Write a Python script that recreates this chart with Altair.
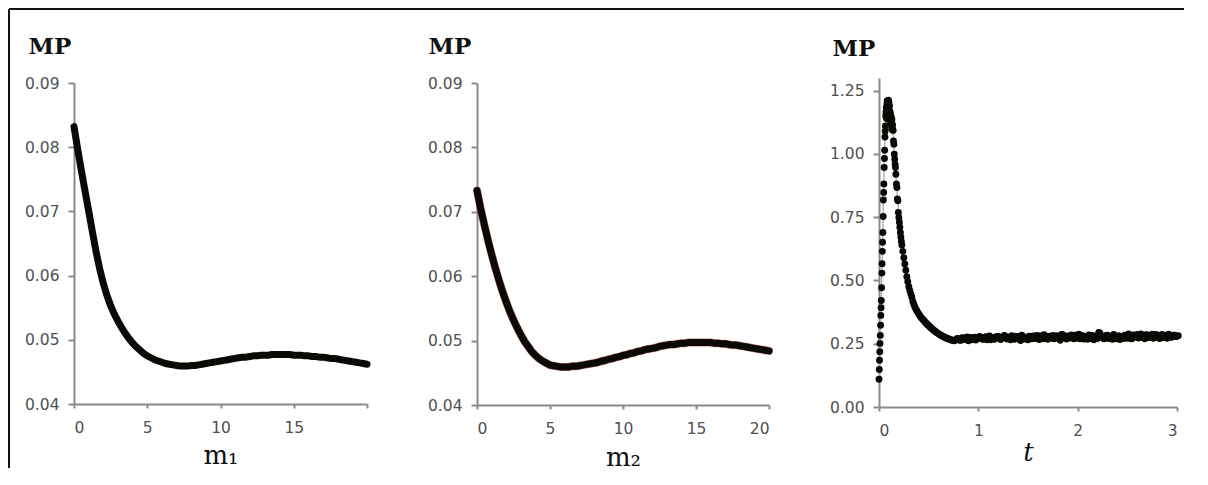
import altair as alt
import pandas as pd

BLACK = "#0b0906"

# Panel 1: MP vs m1 (step 0.25)
mp1 = [0.0832, 0.0797, 0.0764, 0.0732, 0.0701, 0.0669, 0.0638, 0.0611, 0.0588, 0.0569,
       0.0553, 0.0540, 0.0529, 0.0519, 0.0510, 0.0502, 0.0495, 0.0489, 0.0484, 0.0479,
       0.0475, 0.0472, 0.0469, 0.0467, 0.0465, 0.0463, 0.0462, 0.0461, 0.0460, 0.0459,
       0.0459, 0.0459, 0.0460, 0.0460, 0.0461, 0.0462, 0.0463, 0.0464, 0.0465, 0.0466,
       0.0467, 0.0468, 0.0469, 0.0470, 0.0471, 0.0472, 0.0473, 0.0473, 0.0474, 0.0475,
       0.0475, 0.0476, 0.0476, 0.0476, 0.0477, 0.0477, 0.0477, 0.0477, 0.0477, 0.0477,
       0.0476, 0.0476, 0.0476, 0.0475, 0.0475, 0.0474, 0.0474, 0.0473, 0.0473, 0.0472,
       0.0471, 0.0471, 0.0470, 0.0469, 0.0468, 0.0467, 0.0466, 0.0465, 0.0464, 0.0463,
       0.0462]
m1 = [round(i * 0.25, 2) for i in range(len(mp1))]

# Panel 2: MP vs m2 (step 0.25)
mp2 = [0.0733, 0.0705, 0.0680, 0.0656, 0.0634, 0.0613, 0.0594, 0.0576, 0.0560, 0.0545,
       0.0532, 0.0520, 0.0509, 0.0499, 0.0491, 0.0483, 0.0477, 0.0472, 0.0468, 0.0465,
       0.0462, 0.0461, 0.0460, 0.0459, 0.0459, 0.0459, 0.0460, 0.0460, 0.0461, 0.0462,
       0.0463, 0.0464, 0.0465, 0.0466, 0.0468, 0.0469, 0.0471, 0.0472, 0.0474, 0.0475,
       0.0477, 0.0478, 0.0480, 0.0481, 0.0483, 0.0484, 0.0486, 0.0487, 0.0488, 0.0489,
       0.0491, 0.0492, 0.0493, 0.0494, 0.0494, 0.0495, 0.0496, 0.0496, 0.0497, 0.0497,
       0.0497, 0.0497, 0.0497, 0.0497, 0.0497, 0.0496, 0.0496, 0.0495, 0.0495, 0.0494,
       0.0493, 0.0493, 0.0492, 0.0491, 0.0490, 0.0489, 0.0488, 0.0487, 0.0486, 0.0485,
       0.0484]
m2 = [round(i * 0.25, 2) for i in range(len(mp2))]

# Panel 3: MP vs t
t_rise = [0.000, 0.003, 0.005, 0.008, 0.010, 0.013, 0.016, 0.018, 0.021, 0.023, 0.026, 0.029,
          0.031, 0.034, 0.036, 0.039, 0.042, 0.044, 0.047, 0.049, 0.052, 0.055, 0.057, 0.060,
          0.062, 0.065, 0.068, 0.070, 0.073]
mp_rise = [0.110, 0.148, 0.185, 0.218, 0.251, 0.283, 0.323, 0.362, 0.392, 0.421, 0.471, 0.529,
           0.566, 0.615, 0.651, 0.690, 0.753, 0.818, 0.848, 0.881, 0.946, 0.982, 1.015, 1.067,
           1.090, 1.110, 1.150, 1.165, 1.182]
t_peak = [0.076, 0.079, 0.082, 0.085, 0.088, 0.091, 0.094, 0.097, 0.100, 0.103, 0.106, 0.109,
          0.112, 0.115, 0.118, 0.121, 0.124, 0.127, 0.130, 0.133, 0.136, 0.139]
mp_peak = [1.140, 1.195, 1.209, 1.160, 1.175, 1.150, 1.212, 1.185, 1.205, 1.140, 1.190, 1.170,
           1.130, 1.160, 1.150, 1.120, 1.145, 1.100, 1.135, 1.110, 1.115, 1.095]
t_fall = [0.142, 0.146, 0.150, 0.154, 0.158, 0.162, 0.166, 0.170, 0.175, 0.180, 0.185, 0.190,
          0.195, 0.200, 0.205, 0.210, 0.215, 0.220, 0.225, 0.230, 0.240, 0.250, 0.260, 0.270,
          0.280, 0.290, 0.300, 0.310, 0.320, 0.330, 0.34, 0.35, 0.36, 0.37, 0.38, 0.39, 0.40,
          0.41, 0.42, 0.43, 0.44, 0.45, 0.46, 0.47, 0.48, 0.49, 0.50, 0.51, 0.52, 0.53, 0.54,
          0.55, 0.56, 0.57, 0.58, 0.59, 0.60, 0.61, 0.62, 0.63, 0.64, 0.65, 0.66, 0.67, 0.68,
          0.69, 0.70, 0.71, 0.72, 0.73, 0.74, 0.75, 0.76]
mp_fall = [1.093, 1.051, 1.038, 0.999, 0.979, 0.959, 0.946, 0.920, 0.881, 0.867, 0.822, 0.815,
           0.769, 0.749, 0.730, 0.710, 0.690, 0.672, 0.655, 0.640, 0.615, 0.590, 0.565, 0.540,
           0.515, 0.495, 0.475, 0.460, 0.447, 0.435, 0.418, 0.407, 0.396, 0.388, 0.380, 0.374,
           0.368, 0.362, 0.356, 0.351, 0.347, 0.342, 0.338, 0.333, 0.329, 0.325, 0.321, 0.318,
           0.313, 0.310, 0.306, 0.303, 0.300, 0.297, 0.294, 0.292, 0.289, 0.287, 0.284, 0.282,
           0.280, 0.278, 0.276, 0.274, 0.272, 0.271, 0.269, 0.268, 0.266, 0.265, 0.264, 0.263,
           0.262]
mp_plateau_a = [0.266, 0.270, 0.264, 0.273, 0.269, 0.262, 0.275, 0.270, 0.265, 0.272,
                0.276, 0.268, 0.278, 0.270, 0.266, 0.275, 0.272, 0.279, 0.267, 0.274,
                0.278, 0.271, 0.266, 0.275, 0.280, 0.270, 0.263, 0.277, 0.271, 0.266,
                0.275, 0.281, 0.271, 0.276, 0.282, 0.270, 0.277, 0.268, 0.276, 0.283,
                0.272, 0.278, 0.264, 0.286, 0.277, 0.281, 0.273, 0.278, 0.284, 0.272,
                0.270, 0.282, 0.277, 0.268, 0.276, 0.283, 0.278, 0.271, 0.292, 0.279,
                0.272, 0.284, 0.277, 0.268, 0.280, 0.274, 0.267, 0.278, 0.284, 0.272,
                0.281, 0.271, 0.283, 0.287, 0.275, 0.283, 0.270, 0.285, 0.279, 0.288,
                0.274, 0.284, 0.271, 0.287, 0.282, 0.272, 0.285, 0.277, 0.284, 0.280]
mp_plateau_b = [0.271, 0.264, 0.274, 0.267, 0.277, 0.270, 0.266, 0.276, 0.272, 0.279,
                0.269, 0.274, 0.266, 0.281, 0.273, 0.268, 0.279, 0.271, 0.276, 0.283,
                0.269, 0.277, 0.282, 0.268, 0.273, 0.279, 0.284, 0.269, 0.276, 0.280,
                0.270, 0.274, 0.283, 0.267, 0.275, 0.286, 0.272, 0.280, 0.273, 0.270,
                0.282, 0.271, 0.287, 0.275, 0.269, 0.278, 0.285, 0.270, 0.276, 0.288,
                0.281, 0.269, 0.274, 0.285, 0.271, 0.266, 0.280, 0.295, 0.276, 0.270,
                0.283, 0.271, 0.279, 0.287, 0.270, 0.282, 0.276, 0.271, 0.277, 0.289,
                0.270, 0.285, 0.276, 0.273, 0.289, 0.279, 0.286, 0.274, 0.283, 0.272,
                0.287, 0.277, 0.282, 0.274, 0.279, 0.288, 0.275, 0.284, 0.278, 0.282]
t_plateau = [round(0.775 + 0.025 * i, 4) for i in range(len(mp_plateau_a))]
t_plateau_b = [round(0.7875 + 0.025 * i, 4) for i in range(len(mp_plateau_b))]

t3 = t_rise + t_peak + t_fall
mp3 = mp_rise + mp_peak + mp_fall
for ta, va, tb, vb in zip(t_plateau, mp_plateau_a, t_plateau_b, mp_plateau_b):
    t3 += [ta, tb]
    mp3 += [va, vb]

df1 = pd.DataFrame({"m": m1, "mp": mp1, "i": range(len(m1))})
df2 = pd.DataFrame({"m": m2, "mp": mp2, "i": range(len(m2))})
df3 = pd.DataFrame({"t": t3, "mp": mp3, "i": range(len(t3))})
one_a = pd.DataFrame({"k": [0]})
one_b = pd.DataFrame({"k": [1]})

H = 329
AX = dict(domainColor="#8a8a8a", domainWidth=2, tickColor="#8a8a8a", tickWidth=2,
          labelColor="#505050", labelFont="DejaVu Sans", labelFontSize=15.5, grid=False,
          titleFont="DejaVu Serif", titleColor="#111111")


def yaxis(tx, ty, values, fmt=".2f"):
    return alt.Axis(values=values, format=fmt, title="MP", titleAngle=0, titleAlign="left",
                    titleBaseline="alphabetic", titleX=tx, titleY=ty, titleFontWeight="bold",
                    titleFontSize=23, tickSize=6, labelPadding=9, **AX)


def xaxis(title, values, ty, offset=0, italic=False, expr=None):
    kw = dict(values=values, title=title, titleBaseline="alphabetic", titleY=ty,
              titleFontWeight="normal", titleFontSize=26, tickSize=4, labelPadding=12,
              offset=offset, **AX)
    if italic:
        kw["titleFontStyle"] = "italic"
    if expr:
        kw["labelExpr"] = expr
    return alt.Axis(**kw)


yv12 = [0.04, 0.05, 0.06, 0.07, 0.08, 0.09]

line1 = alt.Chart(df1).mark_line(color=BLACK, strokeWidth=7, strokeCap="round",
                                 strokeJoin="round").encode(
    x=alt.X("m:Q", scale=alt.Scale(domain=[0, 20], nice=False, zero=False),
            axis=xaxis("m₁", [0, 5, 10, 15, 20], 59, offset=-3,
                       expr="datum.value == 20 ? '' : datum.label")),
    y=alt.Y("mp:Q", scale=alt.Scale(domain=[0.04, 0.09], range=[326, 5], nice=False, zero=False),
            axis=yaxis(-46, -25, yv12)),
    order="i:Q",
)
frame_top = alt.Chart(one_a).mark_rule(color="#111111", strokeWidth=2, clip=False).encode(
    x=alt.value(-65), x2=alt.value(1110), y=alt.value(-69), y2=alt.value(-69))
frame_left = alt.Chart(one_b).mark_rule(color="#111111", strokeWidth=2, clip=False).encode(
    x=alt.value(-65), x2=alt.value(-65), y=alt.value(-69), y2=alt.value(390))
p1 = alt.layer(frame_top, frame_left, line1).properties(width=293, height=H)

base2 = alt.Chart(df2).encode(
    x=alt.X("m:Q", scale=alt.Scale(domain=[0, 20], nice=False, zero=False),
            axis=xaxis("m₂", [0, 5, 10, 15, 20], 60, offset=-2)),
    y=alt.Y("mp:Q", scale=alt.Scale(domain=[0.04, 0.09], range=[327, 5], nice=False, zero=False),
            axis=yaxis(-49, -25, yv12)),
    order="i:Q",
)
red2 = base2.mark_line(color="#a02820", strokeWidth=8, strokeCap="round", opacity=0.6)
line2 = base2.mark_line(color=BLACK, strokeWidth=7, strokeCap="round", strokeJoin="round")
p2 = alt.layer(red2, line2).properties(width=292, height=H)

base3 = alt.Chart(df3).encode(
    x=alt.X("t:Q", scale=alt.Scale(domain=[0, 3], nice=False, zero=False),
            axis=xaxis("t", [0, 1, 2, 3], 53, italic=True)),
    y=alt.Y("mp:Q", scale=alt.Scale(domain=[0, 1.3], nice=False, zero=False),
            axis=yaxis(-47, -23, [0, 0.25, 0.5, 0.75, 1.0, 1.25])),
    order="i:Q",
)
conn3 = base3.mark_line(color="#b5b5b5", strokeWidth=1.5)
pts3 = base3.mark_circle(color=BLACK, size=48, opacity=1)
p3 = alt.layer(conn3, pts3).properties(width=298, height=H)

chart = alt.hconcat(p1, p2, p3, spacing=110, bounds="flush").properties(
    padding={"left": 0, "top": 0, "right": 0, "bottom": 0},
    background="white",
).configure_view(strokeWidth=0)

chart.save("out.html", embed_options={"renderer": "svg", "actions": False})
